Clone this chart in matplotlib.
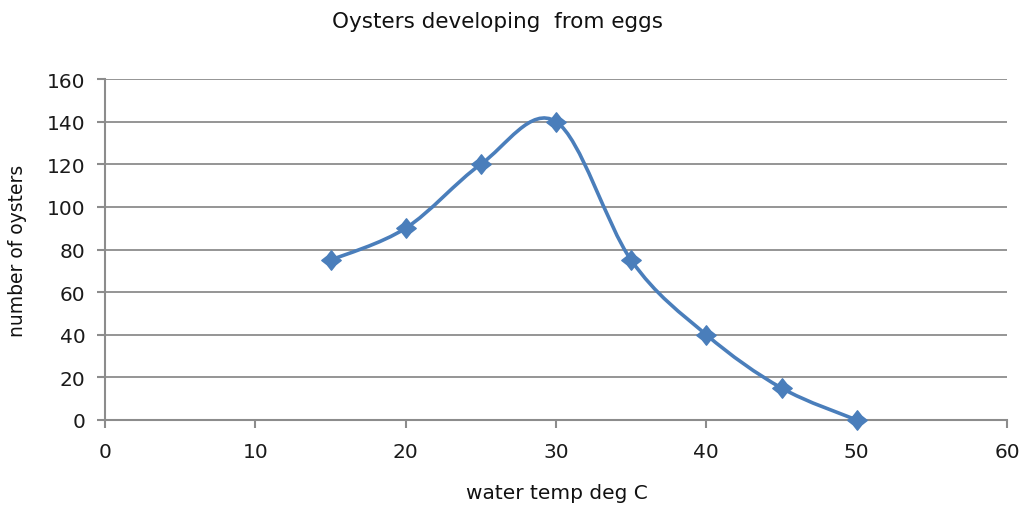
import numpy as np
import matplotlib
matplotlib.use("Agg")
import matplotlib.pyplot as plt
from matplotlib.path import Path
from matplotlib.patches import PathPatch

temps = [15, 20, 25, 30, 35, 40, 45, 50]
oysters = [75, 90, 120, 140, 75, 40, 15, 0]
title = "Oysters developing  from eggs"
xlabel = "water temp deg C"
ylabel = "number of oysters"

color = "#4A7EBB"
grid_c = "#8C8C8C"

fig = plt.figure(figsize=(10.26, 5.10), dpi=100)
ax = fig.add_axes([105/1026, 1-421/510, (1007-105)/1026, (421-80)/510])

# Excel-style smoothed line: Catmull-Rom converted to cubic Bezier segments
P = np.column_stack([temps, oysters]).astype(float)
n = len(P)
verts = [tuple(P[0])]
codes = [Path.MOVETO]
for i in range(n - 1):
    p0 = P[i - 1] if i > 0 else P[i]
    p1 = P[i]
    p2 = P[i + 1]
    p3 = P[i + 2] if i + 2 < n else P[i + 1]
    c1 = p1 + (p2 - p0) / 6.0
    c2 = p2 - (p3 - p1) / 6.0
    verts += [tuple(c1), tuple(c2), tuple(p2)]
    codes += [Path.CURVE4] * 3
ax.add_patch(PathPatch(Path(verts, codes), facecolor="none", edgecolor=color,
                       lw=2.6, capstyle="round", joinstyle="round", zorder=3))

k = 0.44
star = Path([(0, 1), (k, k), (1, 0), (k, -k), (0, -1), (-k, -k), (-1, 0), (-k, k), (0, 1)],
            [Path.MOVETO] + [Path.LINETO] * 7 + [Path.CLOSEPOLY])
ax.plot(temps, oysters, linestyle="none", marker=star, ms=14, color=color,
        markeredgecolor=color, markeredgewidth=1.0, zorder=4, clip_on=False)

ax.set_xlim(0, 60)
ax.set_ylim(0, 160)
ax.set_xticks(range(0, 61, 10))
ax.set_yticks(range(0, 161, 20))
ax.yaxis.grid(True, color=grid_c, lw=1.3)
ax.set_axisbelow(True)
for s in ["top", "right"]:
    ax.spines[s].set_visible(False)
for s in ["left", "bottom"]:
    ax.spines[s].set_color(grid_c)
    ax.spines[s].set_linewidth(1.5)
ax.tick_params(axis="both", colors=grid_c, width=1.5, length=6, labelsize=14.5,
               labelcolor="#1a1a1a")
ax.tick_params(axis="x", pad=10)
ax.tick_params(axis="y", pad=8)

fig.text(497/1026, 1-22/510, title, ha="center", va="center", fontsize=15.5, color="#111111")
fig.text(557/1026, 1-494/510, xlabel, ha="center", va="center", fontsize=14.5, color="#111111")
fig.text(18/1026, 1-251/510, ylabel, ha="center", va="center", rotation=90, fontsize=13.5, color="#111111")

fig.savefig("out.png", dpi=100, facecolor="white")
